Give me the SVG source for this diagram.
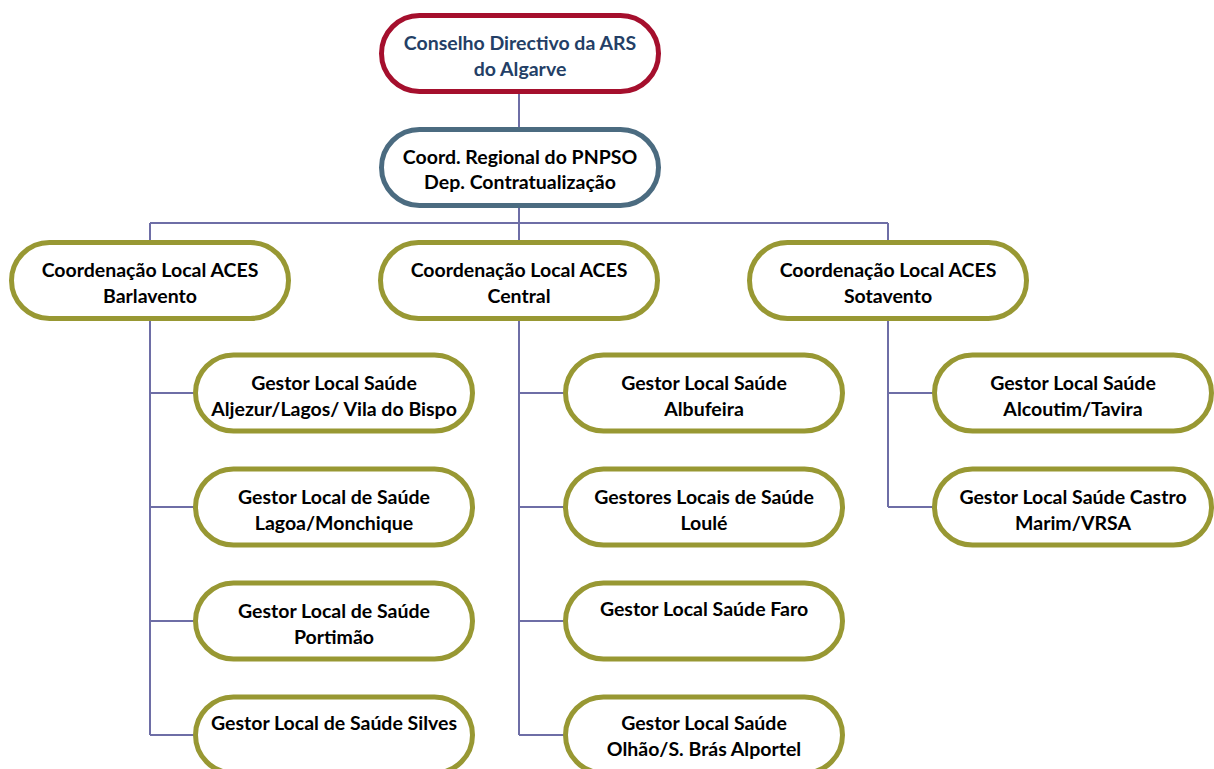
<svg xmlns="http://www.w3.org/2000/svg" width="1214" height="769" viewBox="0 0 1214 769">
<style>
.box{fill:#fff;stroke-width:5}
.red{stroke:#A50F2D}
.blue{stroke:#4B6B80}
.olive{stroke:#989833}
.t{font-family:Lato,"Liberation Sans",sans-serif;font-weight:bold;font-size:19.5px;text-anchor:middle;fill:#000}
.tb{fill:#243F66}
.c{fill:none;stroke:#6E6EA6;stroke-width:2}
</style>
<rect width="1214" height="769" fill="#fff"/>
<g id="connectors">
<path class="c" d="M519 94V128M519 206V223M150 223H888M150 223V242M519 223V242M888 223V242"/>
<path class="c" d="M150 320V735M150 393H195M150 507H195M150 621H195M150 735H195"/>
<path class="c" d="M519 320V735M519 393H565M519 507H565M519 621H565M519 735H565"/>
<path class="c" d="M888 320V507M888 393H934M888 507H934"/>
</g>
<g id="n_conselho"><rect class="box red" x="381.5" y="15.5" width="277" height="76" rx="38"/>
<text class="t tb" x="520" y="50">Conselho Directivo da ARS</text><text class="t tb" x="520" y="76">do Algarve</text></g>
<g id="n_coord"><rect class="box blue" x="381.5" y="129.5" width="277" height="76" rx="38"/>
<text class="t" x="520" y="164">Coord. Regional do PNPSO</text><text class="t" x="520" y="189">Dep. Contratualização</text></g>
<g id="n_barlavento"><rect class="box olive" x="11.5" y="242.5" width="277" height="76" rx="38"/>
<text class="t" x="150" y="277">Coordenação Local ACES</text><text class="t" x="150" y="303">Barlavento</text></g>
<g id="n_central"><rect class="box olive" x="380.5" y="242.5" width="277" height="76" rx="38"/>
<text class="t" x="519" y="277">Coordenação Local ACES</text><text class="t" x="519" y="303">Central</text></g>
<g id="n_sotavento"><rect class="box olive" x="749.5" y="242.5" width="277" height="76" rx="38"/>
<text class="t" x="888" y="277">Coordenação Local ACES</text><text class="t" x="888" y="303">Sotavento</text></g>
<g id="n_aljezur"><rect class="box olive" x="195.5" y="355" width="277" height="76" rx="38"/>
<text class="t" x="334" y="390">Gestor Local Saúde</text><text class="t" x="334" y="416">Aljezur/Lagos/ Vila do Bispo</text></g>
<g id="n_lagoa"><rect class="box olive" x="195.5" y="469" width="277" height="76" rx="38"/>
<text class="t" x="334" y="504">Gestor Local de Saúde</text><text class="t" x="334" y="530">Lagoa/Monchique</text></g>
<g id="n_portimao"><rect class="box olive" x="195.5" y="583" width="277" height="76" rx="38"/>
<text class="t" x="334" y="618">Gestor Local de Saúde</text><text class="t" x="334" y="644">Portimão</text></g>
<g id="n_silves"><rect class="box olive" x="195.5" y="697" width="277" height="76" rx="38"/>
<text class="t" x="334" y="730">Gestor Local de Saúde Silves</text></g>
<g id="n_albufeira"><rect class="box olive" x="565.5" y="355" width="277" height="76" rx="38"/>
<text class="t" x="704" y="390">Gestor Local Saúde</text><text class="t" x="704" y="416">Albufeira</text></g>
<g id="n_loule"><rect class="box olive" x="565.5" y="469" width="277" height="76" rx="38"/>
<text class="t" x="704" y="504">Gestores Locais de Saúde</text><text class="t" x="704" y="530">Loulé</text></g>
<g id="n_faro"><rect class="box olive" x="565.5" y="583" width="277" height="76" rx="38"/>
<text class="t" x="704" y="616">Gestor Local Saúde Faro</text></g>
<g id="n_olhao"><rect class="box olive" x="565.5" y="697" width="277" height="76" rx="38"/>
<text class="t" x="704" y="730">Gestor Local Saúde</text><text class="t" x="704" y="756">Olhão/S. Brás Alportel</text></g>
<g id="n_alcoutim"><rect class="box olive" x="934.5" y="355" width="277" height="76" rx="38"/>
<text class="t" x="1073" y="390">Gestor Local Saúde</text><text class="t" x="1073" y="416">Alcoutim/Tavira</text></g>
<g id="n_castro"><rect class="box olive" x="934.5" y="469" width="277" height="76" rx="38"/>
<text class="t" x="1073" y="504">Gestor Local Saúde Castro</text><text class="t" x="1073" y="530">Marim/VRSA</text></g>
</svg>
